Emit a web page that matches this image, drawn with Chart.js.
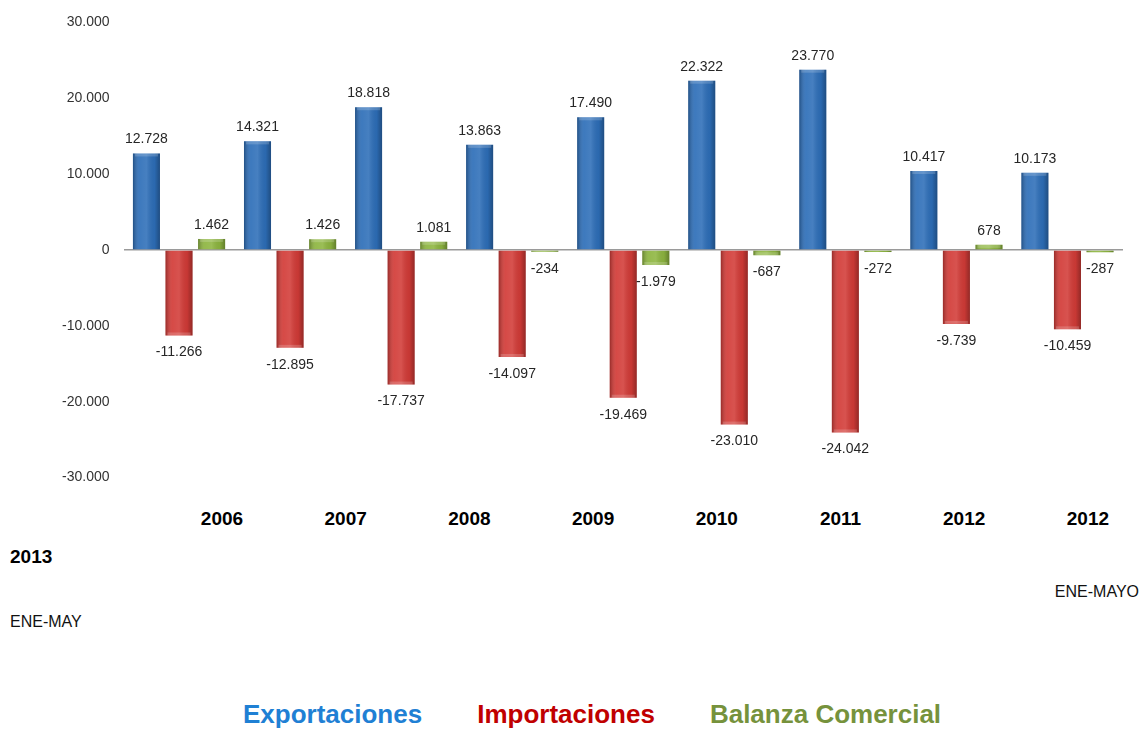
<!DOCTYPE html>
<html lang="es">
<head>
<meta charset="utf-8">
<title>Balanza Comercial</title>
<script src="https://cdn.jsdelivr.net/npm/chart.js@4.4.1/dist/chart.umd.min.js"></script>
<style>
    body {
        margin: 0;
        background: #fff;
        font-family: 'Liberation Sans', Arial, sans-serif;
    }
    .page {
        position: relative;
        width: 1146px;
        height: 729px;
        overflow: hidden;
    }
    #tradeChart {
        position: absolute;
        left: 0;
        top: 0;
    }
    .year-label {
        position: absolute;
        top: 508px;
        font-weight: bold;
        font-size: 19px;
        color: #000;
        transform: translateX(-50%);
        white-space: nowrap;
    }
    .note {
        position: absolute;
        font-size: 16px;
        color: #111;
        white-space: nowrap;
    }
    .legend {
        position: absolute;
        left: 243px;
        top: 699px;
        font-weight: bold;
        font-size: 26px;
        white-space: nowrap;
    }
    .legend span {
        margin-right: 55px;
    }
</style>
</head>
<body>
<div class="page">
    <canvas id="tradeChart" width="1146" height="500"></canvas>
    <div id="yearLabels"></div>
    <div class="note" style="left:10px; top:546px; font-weight:bold; font-size:19px; color:#000;">2013</div>
    <div class="note" style="right:7px; top:583px;">ENE-MAYO</div>
    <div class="note" style="left:10px; top:613px;">ENE-MAY</div>
    <div class="legend" id="legend"></div>
</div>

<script>
// Data (millones US$)
const categories = ['2006', '2007', '2008', '2009', '2010', '2011', '2012', '2012 ENE-MAYO', '2013 ENE-MAY'];
const exportaciones = [12728, 14321, 18818, 13863, 17490, 22322, 23770, 10417, 10173];
const importaciones = [-11266, -12895, -17737, -14097, -19469, -23010, -24042, -9739, -10459];
const balanza = [1462, 1426, 1081, -234, -1979, -687, -272, 678, -287];
const seriesNames = ['Exportaciones', 'Importaciones', 'Balanza Comercial'];
const yTicks = [30000, 20000, 10000, 0, -10000, -20000, -30000];
const xLabels = ['2006', '2007', '2008', '2009', '2010', '2011', '2012', '2012'];

const barColors = ['#2D6EB8', '#D23B37', '#8DB53F'];
const legendColors = ['#1F80D4', '#C00000', '#76923C'];

document.addEventListener('DOMContentLoaded', function() {
    initChart();
    initLabels();
});

function formatNumber(num) {
    const sign = num < 0 ? '-' : '';
    return sign + Math.abs(num).toString().replace(/\B(?=(\d{3})+(?!\d))/g, '.');
}

/**
 * Sheen over the bars plus value labels
 */
const barDecor = {
    id: 'barDecor',
    afterDatasetsDraw(chart) {
        const ctx = chart.ctx;
        ctx.save();
        chart.data.datasets.forEach((ds, di) => {
            const meta = chart.getDatasetMeta(di);
            meta.data.forEach((bar, i) => {
                const left = bar.x - bar.width / 2;
                const top = Math.min(bar.y, bar.base);
                const h = Math.abs(bar.base - bar.y);
                const g = ctx.createLinearGradient(left, 0, left + bar.width, 0);
                g.addColorStop(0, 'rgba(0,0,0,0.28)');
                g.addColorStop(0.25, 'rgba(255,255,255,0.08)');
                g.addColorStop(0.5, 'rgba(255,255,255,0.12)');
                g.addColorStop(0.8, 'rgba(0,0,0,0.05)');
                g.addColorStop(1, 'rgba(0,0,0,0.3)');
                ctx.fillStyle = g;
                ctx.fillRect(left, top, bar.width, h);
                // light cap on the outer end
                if (h > 4) {
                    const capY = ds.data[i] >= 0 ? top : top + h - 3;
                    ctx.fillStyle = 'rgba(255,255,255,0.18)';
                    ctx.fillRect(left + 2, capY, bar.width - 4, 3);
                }

                const v = ds.data[i];
                ctx.fillStyle = '#262626';
                ctx.font = '14px "Liberation Sans", Arial, sans-serif';
                ctx.textAlign = 'center';
                if (v >= 0) {
                    ctx.textBaseline = 'bottom';
                    ctx.fillText(formatNumber(v), bar.x, bar.y - 7);
                } else {
                    ctx.textBaseline = 'top';
                    ctx.fillText(formatNumber(v), bar.x, bar.y + 10);
                }
            });
        });
        ctx.restore();
    }
};

function initChart() {
    const ctx = document.getElementById('tradeChart');
    const values = [exportaciones, importaciones, balanza];

    new Chart(ctx, {
        type: 'bar',
        data: {
            labels: categories,
            datasets: seriesNames.map((name, k) => ({
                label: name,
                data: values[k],
                backgroundColor: barColors[k],
                borderWidth: 0,
                categoryPercentage: 0.88,
                barPercentage: 0.83
            }))
        },
        options: {
            responsive: false,
            animation: false,
            layout: {
                padding: { left: 0, right: 23, top: 16, bottom: 20 }
            },
            plugins: {
                legend: { display: false },
                tooltip: { enabled: false }
            },
            scales: {
                x: {
                    display: false
                },
                y: {
                    min: -30000,
                    max: 30000,
                    afterFit: function(scale) { scale.width = 123.5; },
                    afterBuildTicks: function(scale) {
                        scale.ticks = yTicks.map(v => ({ value: v }));
                    },
                    border: { display: false },
                    grid: {
                        drawTicks: false,
                        lineWidth: 1.5,
                        color: c => (c.tick && c.tick.value === 0) ? '#9a9a9a' : 'rgba(0,0,0,0)'
                    },
                    ticks: {
                        padding: 14,
                        color: '#333',
                        font: { family: 'Liberation Sans', size: 14 },
                        callback: v => formatNumber(v)
                    }
                }
            }
        },
        plugins: [barDecor]
    });
}

function initLabels() {
    const wrap = document.getElementById('yearLabels');
    xLabels.forEach((txt, i) => {
        const el = document.createElement('div');
        el.className = 'year-label';
        el.style.left = (222 + i * 123.7) + 'px';
        el.textContent = txt;
        wrap.appendChild(el);
    });

    const legend = document.getElementById('legend');
    seriesNames.forEach((name, k) => {
        const s = document.createElement('span');
        s.style.color = legendColors[k];
        s.textContent = name;
        legend.appendChild(s);
    });
}
</script>
</body>
</html>
